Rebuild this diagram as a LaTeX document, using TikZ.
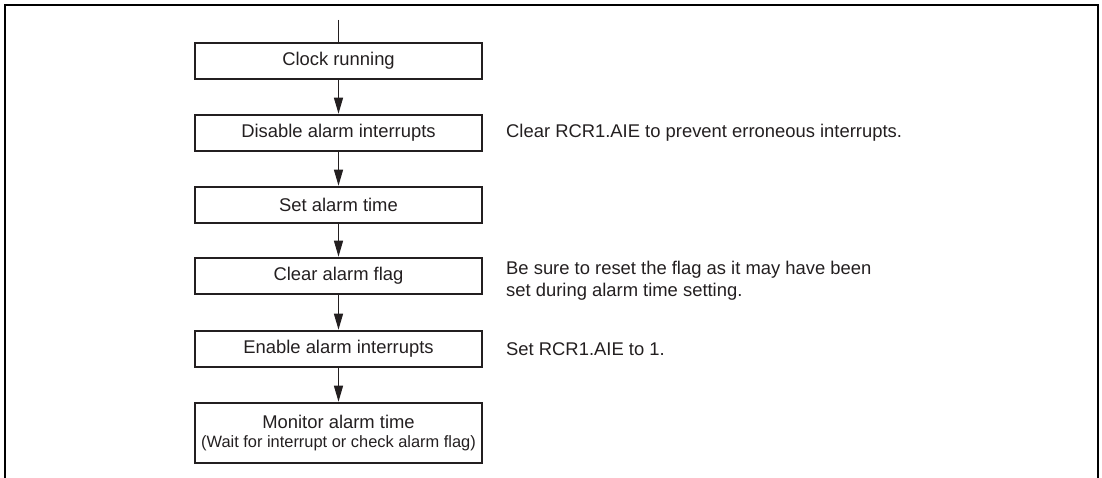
\documentclass[tikz,border=0pt]{standalone}
\usepackage{fontspec}
\setmainfont{Liberation Sans}
\usetikzlibrary{arrows.meta}
\definecolor{ink}{HTML}{231F20}
\begin{document}
\begin{tikzpicture}[x=1pt,y=-1pt,
  stepbox/.style={draw=ink,line width=2.6pt,minimum width=287pt,minimum height=36pt,inner sep=0pt,
    font=\fontsize{18.4}{22}\selectfont,text=ink,align=center},
  note/.style={anchor=west,inner sep=0pt,font=\fontsize{18.4}{22}\selectfont,text=ink,align=left},
  flow/.style={draw=ink,line width=1.3pt,-{Triangle[length=16pt,width=9pt]}},
  frame/.style={draw=black,line width=2.5pt}]
\useasboundingbox (0,0) rectangle (1102,478);
\draw[frame] (5,480) -- (5,5) -- (1098,5) -- (1098,480);
\coordinate (start) at (338.5,20);
\node[stepbox] (clock) at (338.5,61) {Clock running};
\node[stepbox] (disable) at (338.5,133) {Disable alarm interrupts};
\node[stepbox] (set) at (338.5,205) {Set alarm time};
\node[stepbox] (clear) at (338.5,276) {Clear alarm flag};
\node[stepbox] (enable) at (338.5,349) {Enable alarm interrupts};
\node[stepbox,minimum height=60pt] (monitor) at (338.5,433) {Monitor alarm time\\[-3pt]{\fontsize{16.4}{19}\selectfont (Wait for interrupt or check alarm flag)}};
\draw[draw=ink,line width=1.3pt] (start) -- (clock.north);
\draw[flow] (clock) -- (disable);
\draw[flow] (disable) -- (set);
\draw[flow] (set) -- (clear);
\draw[flow] (clear) -- (enable);
\draw[flow] (enable) -- (monitor);
\node[note] (n1) at (506,133) {Clear RCR1.AIE to prevent erroneous interrupts.};
\node[note] (n2) at (506,281) {Be sure to reset the flag as it may have been\\set during alarm time setting.};
\node[note] (n3) at (506,349) {Set RCR1.AIE to 1.};
\end{tikzpicture}
\end{document}
